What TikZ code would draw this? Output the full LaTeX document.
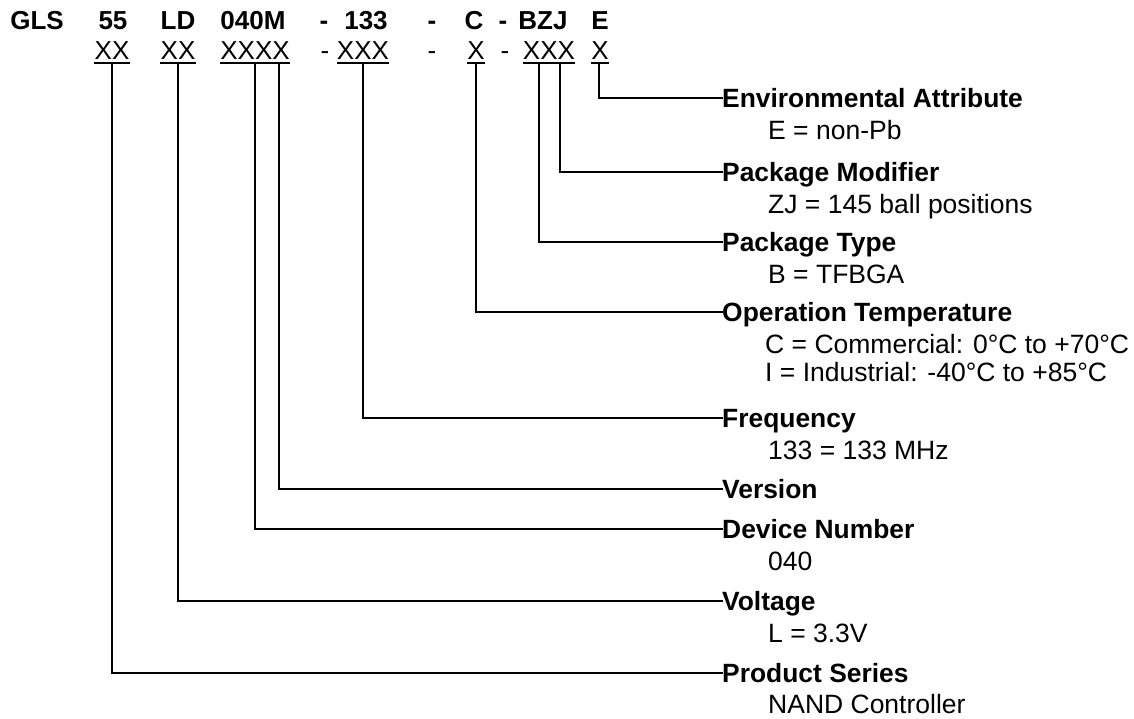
\documentclass[tikz,border=0pt]{standalone}
\usepackage{fontspec}
\setmainfont{Liberation Sans}
\begin{document}
\begin{tikzpicture}[x=1pt,y=-1pt,
  toptok/.style={inner sep=0pt, font=\fontsize{26}{30}\selectfont\bfseries, anchor=base},
  codetok/.style={inner sep=0pt, font=\fontsize{26}{30}\selectfont, anchor=base},
  head/.style={inner sep=0pt, font=\fontsize{26.4}{30}\selectfont\bfseries, anchor=west, text height=19pt, text depth=0pt},
  subtxt/.style={inner sep=0pt, font=\fontsize{26.5}{30}\selectfont, anchor=base west},
  conn/.style={line width=1.8pt, line cap=rect},
  uline/.style={line width=1.8pt}]
\useasboundingbox[fill=white] (0,0) rectangle (1134,719);

% top row
\node[toptok] (gls) at (37,29.3) {GLS};
\node[toptok] (p55) at (113,29.3) {55};
\node[toptok] (pLD) at (178,29.3) {LD};
\node[toptok] (p040) at (253,29.3) {040M};
\node[toptok] (d1) at (324,29.3) {-};
\node[toptok] (p133) at (366,29.3) {133};
\node[toptok] (d2) at (432,29.3) {-};
\node[toptok] (pC) at (474,29.3) {C};
\node[toptok] (d3) at (503,29.3) {-};
\node[toptok] (pBZJ) at (543,29.3) {BZJ};
\node[toptok] (pE) at (600,29.3) {E};

% code row
\node[codetok] (c55) at (112,59.3) {XX};
\node[codetok] (cLD) at (178,59.3) {XX};
\node[codetok] (c040) at (255,59.3) {XXXX};
\node[codetok] (e1) at (325,59.3) {-};
\node[codetok] (c133) at (363,59.3) {XXX};
\node[codetok] (e2) at (432,59.3) {-};
\node[codetok] (cC) at (476,59.3) {X};
\node[codetok] (e3) at (505,59.3) {-};
\node[codetok] (cBZJ) at (549,59.3) {XXX};
\node[codetok] (cE) at (600,59.3) {X};

\foreach \n in {c55,cLD,c040,c133,cC,cBZJ,cE}
  \draw[uline] ([yshift=-4pt]\n.base west) -- ([yshift=-4pt]\n.base east);

% headings
\node[head] (hEA) at (722,98) {Environmental Attribute};
\node[subtxt] (sEA) at (768,139.5) {E = non-Pb};
\node[head] (hPM) at (722,172) {Package Modifier};
\node[subtxt] (sPM) at (768,213.5) {ZJ = 145 ball positions};
\node[head] (hPT) at (722,242) {Package Type};
\node[subtxt] (sPT) at (768,283.5) {B = TFBGA};
\node[head] (hOT) at (722,312) {Operation Temperature};
\node[subtxt] (sOT1) at (765,353.5) {C = Commercial: 0°C to +70°C};
\node[subtxt] (sOT2) at (765,381.5) {I = Industrial: -40°C to +85°C};
\node[head] (hF) at (722,418) {Frequency};
\node[subtxt] (sF) at (768,459.5) {133 = 133 MHz};
\node[head] (hV) at (722,489) {Version};
\node[head] (hDN) at (722,529) {Device Number};
\node[subtxt] (sDN) at (768,570.5) {040};
\node[head] (hVo) at (722,601) {Voltage};
\node[subtxt] (sVo) at (768,642.5) {L = 3.3V};
\node[head] (hPS) at (722,673) {Product Series};
\node[subtxt] (sPS) at (768,713.5) {NAND Controller};

% connector tops
\coordinate (tEA) at (599,63.3);
\coordinate (tPM) at (560,63.3);
\coordinate (tPT) at (539,63.3);
\coordinate (tOT) at (476,63.3);
\coordinate (tF) at (363,63.3);
\coordinate (tV) at (279,63.3);
\coordinate (tDN) at (255,63.3);
\coordinate (tVo) at (178,63.3);
\coordinate (tPS) at (112,63.3);

\draw[conn] (tEA) |- (hEA.west);
\draw[conn] (tPM) |- (hPM.west);
\draw[conn] (tPT) |- (hPT.west);
\draw[conn] (tOT) |- (hOT.west);
\draw[conn] (tF) |- (hF.west);
\draw[conn] (tV) |- (hV.west);
\draw[conn] (tDN) |- (hDN.west);
\draw[conn] (tVo) |- (hVo.west);
\draw[conn] (tPS) |- (hPS.west);
\end{tikzpicture}
\end{document}
